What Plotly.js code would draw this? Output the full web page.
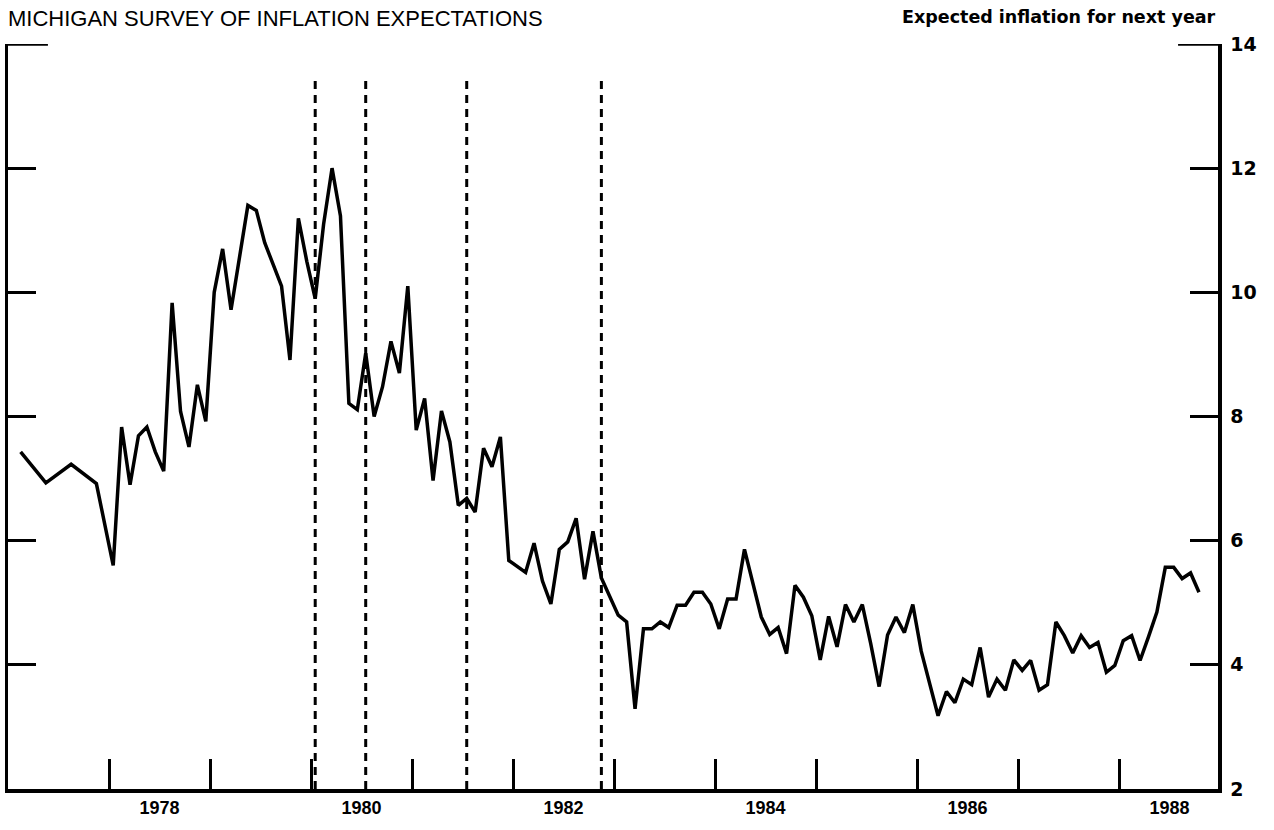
<!DOCTYPE html>
<html>
<head>
<meta charset="utf-8">
<script src="https://cdn.plot.ly/plotly-3.0.1.min.js"></script>
<style>
  html, body { margin: 0; padding: 0; background: #fff; }
  #chart { width: 1274px; height: 830px; }
</style>
</head>
<body>
<div id="chart"></div>
<script>
// ---- Data ----
// 1977: survey taken quarterly
const quarterlyMonths1977 = ['1977-02', '1977-05', '1977-08', '1977-11'];
const quarterlyValues1977 = [7.43, 6.93, 7.23, 6.92];

// Monthly from January 1978 to October 1988
const monthlyStart = '1978-01';
const monthlyValues = [
  // 1978
  5.60, 7.83, 6.90, 7.69, 7.83, 7.43, 7.12, 9.83, 8.08, 7.51, 8.51, 7.92,
  // 1979
  10.00, 10.70, 9.72, 10.60, 11.40, 11.32, 10.80, 10.45, 10.10, 8.91, 11.19, 10.50,
  // 1980
  9.90, 11.10, 12.00, 11.23, 8.21, 8.11, 9.02, 8.00, 8.48, 9.21, 8.70, 10.10,
  // 1981
  7.78, 8.29, 6.97, 8.09, 7.59, 6.57, 6.68, 6.46, 7.49, 7.19, 7.67, 5.68,
  // 1982
  5.58, 5.49, 5.96, 5.35, 4.98, 5.86, 5.98, 6.36, 5.38, 6.15, 5.40, 5.09,
  // 1983
  4.80, 4.69, 3.29, 4.58, 4.58, 4.69, 4.60, 4.96, 4.96, 5.17, 5.17, 4.98,
  // 1984
  4.58, 5.06, 5.06, 5.86, 5.31, 4.77, 4.49, 4.60, 4.18, 5.28, 5.09, 4.79,
  // 1985
  4.08, 4.78, 4.29, 4.97, 4.69, 4.97, 4.34, 3.65, 4.48, 4.77, 4.52, 4.97,
  // 1986
  4.22, 3.72, 3.18, 3.57, 3.39, 3.77, 3.68, 4.28, 3.48, 3.77, 3.59, 4.08,
  // 1987
  3.91, 4.07, 3.59, 3.68, 4.69, 4.47, 4.19, 4.47, 4.28, 4.36, 3.88, 3.99,
  // 1988
  4.39, 4.47, 4.07, 4.45, 4.85, 5.57, 5.57, 5.39, 5.48, 5.17
];

// Business-cycle turning points marked by dashed vertical lines
const turningPointMonths = ['1980-01', '1980-07', '1981-07', '1982-11'];

// Axis ticks and labels
const yearTickValues = [1978, 1979, 1980, 1981, 1982, 1983, 1984, 1985, 1986, 1987, 1988];
const yearLabels = ['1978', '1980', '1982', '1984', '1986', '1988'];
const yTickValues = [2, 4, 6, 8, 10, 12, 14];

const chartTitle = 'MICHIGAN SURVEY OF INFLATION EXPECTATIONS';
const seriesLabel = 'Expected inflation for next year';

// ---- Helpers ----
function monthToYear(s) {
  const parts = s.split('-').map(Number);
  return parts[0] + (parts[1] - 0.5) / 12;
}
const startYear = monthToYear(monthlyStart);

const xs = quarterlyMonths1977.map(monthToYear)
  .concat(monthlyValues.map((v, k) => startYear + k / 12));
const ys = quarterlyValues1977.concat(monthlyValues);

const xRange = [1977.0, 1988.98];
const yRange = [2, 14];

const seriesTrace = {
  type: 'scatter', mode: 'lines',
  x: xs, y: ys,
  line: { color: '#000', width: 3.5 },
  hoverinfo: 'skip', showlegend: false
};
const labelAxisTrace = {
  type: 'scatter', mode: 'markers', x: [xRange[0]], y: [yRange[0]],
  xaxis: 'x2', yaxis: 'y', marker: { opacity: 0 }, hoverinfo: 'skip', showlegend: false
};

const shapes = turningPointMonths.map(m => ({
  type: 'line', xref: 'x', yref: 'y',
  x0: monthToYear(m), x1: monthToYear(m), y0: yRange[0], y1: 13.5,
  line: { color: '#000', width: 3, dash: '8px,6px' }
}));
// slightly longer top ticks at 14 on both sides
shapes.push({ type: 'line', xref: 'paper', yref: 'y', x0: 0, x1: 0.033, y0: 14, y1: 14, line: { color: '#000', width: 3.5 } });
shapes.push({ type: 'line', xref: 'paper', yref: 'y', x0: 0.967, x1: 1, y0: 14, y1: 14, line: { color: '#000', width: 3.5 } });

const layout = {
  width: 1274, height: 830,
  margin: { l: 8, r: 56, t: 44, b: 41 },
  paper_bgcolor: '#fff', plot_bgcolor: '#fff',
  showlegend: false,
  xaxis: {
    range: xRange, tickmode: 'array', tickvals: yearTickValues,
    ticks: 'inside', ticklen: 30, tickwidth: 3, tickcolor: '#000',
    showticklabels: false, showline: true, linewidth: 3.5, linecolor: '#000',
    showgrid: false, zeroline: false, fixedrange: true
  },
  xaxis2: {
    overlaying: 'x', anchor: 'y', side: 'bottom',
    range: xRange, tickmode: 'array',
    tickvals: yearLabels.map(y => Number(y) + 0.5), ticktext: yearLabels,
    ticks: '', showline: false, showgrid: false, zeroline: false,
    ticklabelstandoff: 6,
    tickfont: { family: 'Liberation Sans, Arial, sans-serif', size: 18, color: '#000', weight: 'bold' },
    fixedrange: true
  },
  yaxis: {
    range: yRange, side: 'right', tickmode: 'array', tickvals: yTickValues,
    ticks: 'inside', ticklen: 28, tickwidth: 3, tickcolor: '#000',
    showline: true, mirror: 'ticks', linewidth: 3.5, linecolor: '#000',
    showgrid: false, zeroline: false, fixedrange: true,
    ticklabelstandoff: 5,
    tickfont: { family: 'DejaVu Sans, sans-serif', size: 19, color: '#000', weight: 'bold' }
  },
  shapes: shapes,
  annotations: [
    {
      text: chartTitle, xref: 'paper', yref: 'paper', x: -0.0005, y: 1.0165,
      xanchor: 'left', yanchor: 'bottom', showarrow: false, borderpad: 0,
      font: { family: 'Liberation Sans, Arial, sans-serif', size: 22, color: '#000' }
    },
    {
      text: seriesLabel, xref: 'paper', yref: 'paper', x: 1.0, y: 1.036,
      xanchor: 'right', yanchor: 'middle', showarrow: false,
      font: { family: 'DejaVu Sans, sans-serif', size: 17.5, color: '#000', weight: 'bold' }
    }
  ]
};

Plotly.newPlot('chart', [seriesTrace, labelAxisTrace], layout, { staticPlot: true, displayModeBar: false });
</script>
</body>
</html>
